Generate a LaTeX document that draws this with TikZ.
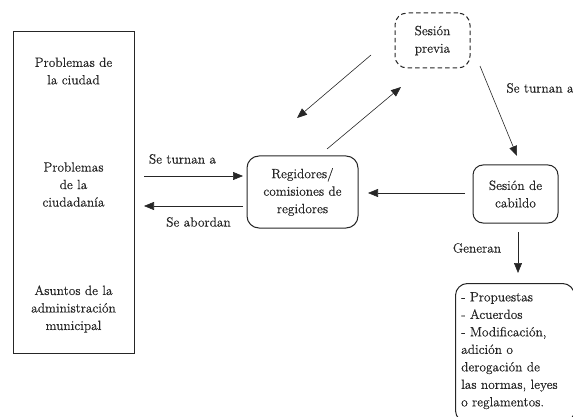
\documentclass[tikz,border=0pt]{standalone}
\usepackage{fontspec}
\newfontfamily\labelfont[FakeBold=0.35]{Latin Modern Roman}
\usetikzlibrary{arrows.meta,calc}
\begin{document}
\begin{tikzpicture}[x=1pt,y=-1pt,
  every node/.style={font=\labelfont\fontsize{13.4}{17.5}\selectfont, inner sep=0pt, text=black!85},
  box/.style={draw=black!85, line width=1pt, rounded corners=12pt},
  conn/.style={draw=black!85, line width=0.6pt, -{Triangle[length=10pt,width=8pt]}},
  lbl/.style={align=center}]
\useasboundingbox (0,0) rectangle (573,417);

% left panel with the three groups of issues
\node[draw=black!85, line width=1pt, minimum width=121pt, minimum height=321pt] (panel) at (73.5,192.5) {};
\node[lbl] (ciudad) at (73.5,71) {Problemas de\\la ciudad};
\node[lbl] (ciudadania) at (73.5,184.5) {Problemas\\de la\\ciudadanía};
\node[lbl] (asuntos) at (73.5,309) {Asuntos de la\\administración\\municipal};

% process boxes
\node[box, lbl, minimum width=111pt, minimum height=72pt] (reg) at (302.5,192) {Regidores/\\comisiones de\\regidores};
\node[box, lbl, dash pattern=on 4.5pt off 3pt, minimum width=75pt, minimum height=55pt] (previa) at (432.5,40.5) {Sesión\\previa};
\node[box, lbl, rounded corners=10pt, minimum width=85pt, minimum height=58pt] (cabildo) at (515.5,194) {Sesión de\\cabildo};
\node[box, minimum width=119pt, minimum height=139pt, anchor=north west] (result) at (455,283) {};
\node[align=left, anchor=north west] (lista) at (461,292) {- Propuestas\\- Acuerdos\\- Modificación,\\adición o\\derogación de\\las normas, leyes\\o reglamentos.};

% free ends of the connectors
\coordinate (inA) at (144,176);
\coordinate (inB) at (243,176);
\coordinate (outA) at (243,206);
\coordinate (outB) at (144,206);
\coordinate (downA) at (371,55);
\coordinate (downB) at (297,118);
\coordinate (upA) at (327,149);
\coordinate (upB) at (401,87);
\coordinate (turnA) at (480,66);
\coordinate (turnB) at (517,156);
\coordinate (backA) at (465,193);
\coordinate (backB) at (368,193);
\coordinate (genA) at (518,232);
\coordinate (genB) at (518,273);

\draw[conn] (inA) -- (inB);
\draw[conn] (outA) -- (outB);
\draw[conn] (downA) -- (downB);
\draw[conn] (upA) -- (upB);
\draw[conn] (turnA) -- (turnB);
\draw[conn] (backA) -- (backB);
\draw[conn] (genA) -- (genB);

% connector labels
\node (l1) at (182.5,159) {Se turnan a};
\node (l2) at (198.5,222) {Se abordan};
\node (l3) at (540,88) {Se turnan a};
\node (l4) at (477,248) {Generan};
\end{tikzpicture}
\end{document}
